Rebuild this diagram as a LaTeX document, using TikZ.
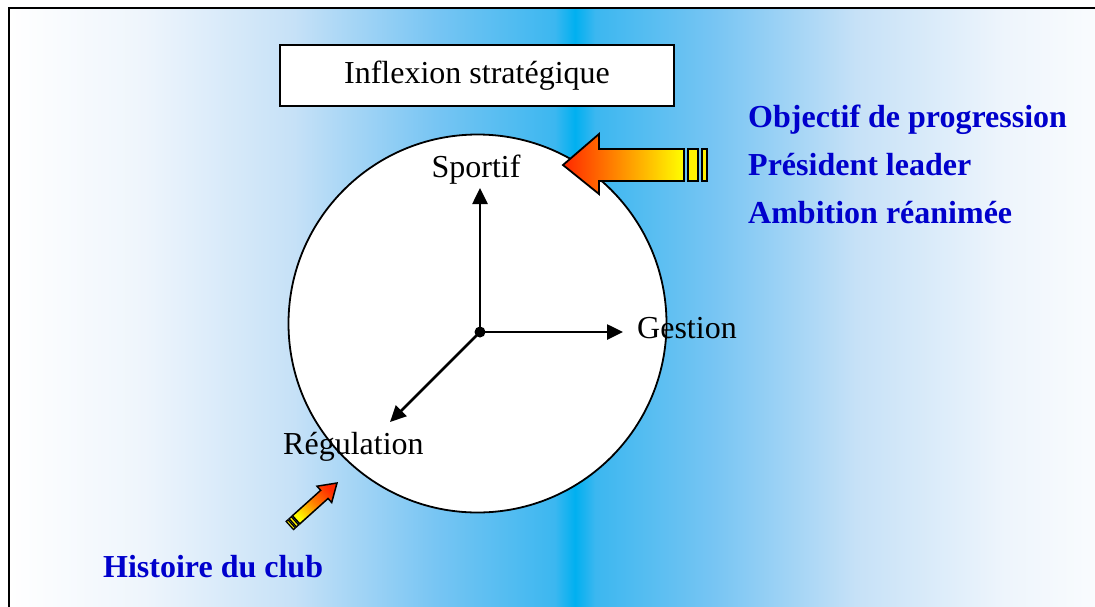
\documentclass[tikz,border=0pt]{standalone}
\usepackage{fontspec}
\setmainfont{Liberation Serif}
\usetikzlibrary{arrows.meta}
\definecolor{bgA}{RGB}{238,245,252}
\definecolor{bgB}{RGB}{198,225,247}
\definecolor{bgC}{RGB}{120,197,243}
\definecolor{bgD}{RGB}{60,183,240}
\definecolor{bgE}{RGB}{0,176,240}
\definecolor{txtblue}{RGB}{0,0,204}
\definecolor{arrred}{RGB}{255,40,0}
\definecolor{arrmid}{RGB}{255,160,0}
\pgfdeclarehorizontalshading{bgshade}{100bp}{color(0bp)=(white); color(25bp)=(white); color(31bp)=(bgA); color(37.6bp)=(bgB); color(43.8bp)=(bgC); color(49.1bp)=(bgD); color(50bp)=(bgE); color(50.9bp)=(bgD); color(56.2bp)=(bgC); color(62.4bp)=(bgB); color(69bp)=(bgA); color(75bp)=(white); color(100bp)=(white)}
\tikzset{
  bigfont/.style={font=\fontsize{32}{38}\selectfont},
  lbl/.style={bigfont, inner sep=0pt, text=black},
  bluelbl/.style={inner sep=0pt, text=txtblue, font=\fontsize{32}{38}\selectfont\bfseries},
  titlebox/.style={draw, line width=2pt, fill=white, bigfont, inner sep=0pt},
  axisarrow/.style={line width=2.6pt, -{Triangle[length=16pt,width=15pt]}},
  arrowoutline/.style={draw=black, line width=1.8pt, line join=miter},
  stripe/.style={fill=yellow, draw=black, line width=1.8pt}
}
\begin{document}
\begin{tikzpicture}[x=1pt,y=-1pt]
\useasboundingbox (0,0) rectangle (1095,606);
\fill[white] (0,0) rectangle (1095,606);
\begin{scope}
\clip (0,0) rectangle (1095,606);
\fill[shading=bgshade] (9,8) rectangle (1141,640);
\draw[line width=2.2pt] (9,8) rectangle (1130,650);
\end{scope}

% title box
\node[titlebox, minimum width=394pt, minimum height=61pt] (inf) at (477,75.5) {Inflexion stratégique};

% circle
\node[circle, draw, line width=1.8pt, fill=white, minimum size=378pt, inner sep=0pt] (circ) at (477.5,323.5) {};

% axes
\coordinate (o) at (480,332);
\coordinate (ts) at (480,188);
\coordinate (tg) at (623,332);
\coordinate (tr) at (390,422);
\draw[axisarrow] (o) -- (ts);
\draw[axisarrow] (o) -- (tg);
\draw[axisarrow] (o) -- (tr);
\fill (o) circle (5.5);

% labels
\node[lbl, anchor=base] (sport) at (476,177) {Sportif};
\node[lbl, anchor=base west] (gest) at (637,338) {Gestion};
\node[lbl, anchor=base west] (regul) at (283,454) {Régulation};

\node[bluelbl, anchor=base west] (obj) at (748,127) {Objectif de progression};
\node[bluelbl, anchor=base west] (pres) at (748,175) {Président leader};
\node[bluelbl, anchor=base west] (amb) at (748,223) {Ambition réanimée};
\node[bluelbl, anchor=base west] (hist) at (103,577) {Histoire du club};

% big arrow
\path[arrowoutline, left color=arrred, middle color=arrmid, right color=yellow]
  (563,165) -- (599,134) -- (599,149) -- (684,149) -- (684,181) -- (599,181) -- (599,194) -- cycle;
\draw[stripe] (688,149) rectangle (698,181);
\draw[stripe] (702,149) rectangle (707,181);

% small arrow
\path[draw=black, line width=1.5pt, line join=miter, top color=arrred, bottom color=yellow, middle color=orange, shading angle=-45]
  (337,483) -- (331.7,502.5) -- (328.05,498.46) -- (299.81,523.89) -- (292.45,515.71) -- (320.69,490.28) -- (317.0,486.2) -- cycle;
\path[draw=black, line width=1.3pt, fill=yellow]
  (298.70,524.89) -- (296.47,526.90) -- (289.11,518.72) -- (291.34,516.71) -- cycle;
\path[draw=black, line width=1.3pt, fill=yellow]
  (295.36,527.90) -- (293.50,529.57) -- (286.14,521.39) -- (288.00,519.72) -- cycle;
\end{tikzpicture}
\end{document}
